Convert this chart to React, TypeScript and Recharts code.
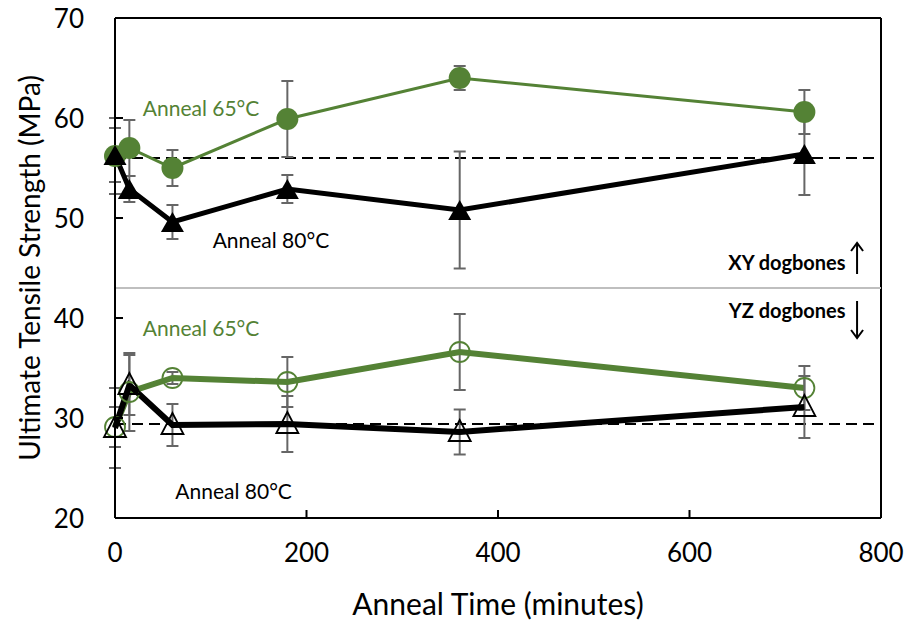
import {
  ComposedChart,
  Line,
  XAxis,
  YAxis,
  ErrorBar,
  ReferenceLine,
  ReferenceDot,
  Label,
} from "recharts";

const times = [0, 15, 60, 180, 360, 720];

// XY dogbones
const xy65 = [56.2, 57.0, 55.0, 59.9, 64.0, 60.6];
const xy65Err = [3.8, 2.8, 1.8, 3.8, 1.2, 2.2];
const xy80 = [56.3, 52.9, 49.6, 52.9, 50.8, 56.4];
const xy80Err = [2.7, 1.3, 1.7, 1.4, 5.85, 4.1];

// YZ dogbones
const yz65 = [29.1, 32.6, 34.0, 33.6, 36.6, 33.0];
const yz65Err = [2.0, 3.9, 0.6, 2.5, 3.8, 2.2];
const yz80 = [29.0, 33.3, 29.3, 29.4, 28.6, 31.1];
const yz80Err = [4.0, 3.0, 2.1, 2.8, 2.25, 3.1];

const xTicks = [0, 200, 400, 600, 800];
const yTicks = [20, 30, 40, 50, 60, 70];

const xyBaseline = 56;
const yzBaseline = 29.4;
const divider = 43;

const GREEN = "#548235";
const ERR = "#666666";
const FONT = "Lato, 'Open Sans', sans-serif";

const toRows = (vals: number[], errs: number[]) =>
  times.map((t, i) => ({ t, v: vals[i], e: errs[i] }));

const filledCircle = (p: any) => (
  <circle key={`fc${p.index}`} cx={p.cx} cy={p.cy} r={11} fill={GREEN} />
);
const openCircle = (p: any) => (
  <circle key={`oc${p.index}`} cx={p.cx} cy={p.cy} r={10} fill="none" stroke={GREEN} strokeWidth={1.8} />
);
const filledTri = (p: any) => (
  <path
    key={`ft${p.index}`}
    d={`M${p.cx},${p.cy - 10} L${p.cx + 11.5},${p.cy + 10} L${p.cx - 11.5},${p.cy + 10} Z`}
    fill="#000"
  />
);
const openTri = (p: any) => (
  <path
    key={`ot${p.index}`}
    d={`M${p.cx},${p.cy - 12} L${p.cx + 11},${p.cy + 9} L${p.cx - 11},${p.cy + 9} Z`}
    fill="none"
    stroke="#000"
    strokeWidth={1.8}
  />
);

const XTick = (p: any) => {
  const v = p.payload.value;
  const inner = v !== 0 && v !== 800;
  return (
    <g>
      {inner && <line x1={p.x} x2={p.x} y1={p.y} y2={p.y - 8} stroke="#000" strokeWidth={2} />}
      <text x={p.x} y={p.y + 34} textAnchor="middle" dominantBaseline="central" fontSize={26} fill="#000" fontFamily={FONT}>
        {v}
      </text>
    </g>
  );
};

const YTick = (p: any) => {
  const v = p.payload.value;
  const inner = v !== 20 && v !== 70;
  return (
    <g>
      {inner && <line x1={p.x} x2={p.x + 8} y1={p.y} y2={p.y} stroke="#000" strokeWidth={2} />}
      <text x={p.x - 31} y={p.y} textAnchor="end" dominantBaseline="central" fontSize={26} fill="#000" fontFamily={FONT}>
        {v}
      </text>
    </g>
  );
};

const note = (text: string, color: string, anchor: string, bold = false) => (p: any) => (
  <text
    x={p.cx}
    y={p.cy}
    textAnchor={anchor}
    dominantBaseline="central"
    fontSize={bold ? 20 : 21}
    fontWeight={bold ? 700 : 400}
    fill={color}
    fontFamily={FONT}
  >
    {text}
  </text>
);

const arrow = (len: number, up: boolean) => (p: any) => {
  const tip = up ? p.cy - len / 2 : p.cy + len / 2;
  const tail = up ? p.cy + len / 2 : p.cy - len / 2;
  const d = up ? 8 : -8;
  return (
    <g stroke="#000" strokeWidth={2} fill="none">
      <line x1={p.cx} x2={p.cx} y1={tail} y2={tip} />
      <polyline points={`${p.cx - 6},${tip + d} ${p.cx},${tip} ${p.cx + 6},${tip + d}`} />
    </g>
  );
};

export default function App() {
  return (
    <div style={{ position: "absolute", left: 0, top: 0, width: 909, height: 625, background: "#fff" }}>
      <ComposedChart width={909} height={625} margin={{ top: 18, right: 28, bottom: 0, left: 0 }}>
        <XAxis
          type="number"
          dataKey="t"
          domain={[0, 800]}
          ticks={xTicks}
          height={107}
          tickLine={false}
          tickSize={0}
          tickMargin={0}
          tick={<XTick />}
          stroke="#000"
          strokeWidth={2}
        >
          <Label
            value="Anneal Time (minutes)"
            position="insideBottom"
            offset={10}
            style={{ fontSize: 30, fill: "#000", fontFamily: FONT }}
          />
        </XAxis>
        <YAxis
          type="number"
          domain={[20, 70]}
          ticks={yTicks}
          width={115}
          tickLine={false}
          tickSize={0}
          tickMargin={0}
          tick={<YTick />}
          stroke="#000"
          strokeWidth={2}
        >
          <Label
            value="Ultimate Tensile Strength (MPa)"
            angle={-90}
            position="insideLeft"
            offset={30}
            style={{ textAnchor: "middle", fontSize: 28, fill: "#000", fontFamily: FONT }}
          />
        </YAxis>

        <ReferenceLine y={70} stroke="#000" strokeWidth={2} />
        <ReferenceLine x={800} stroke="#000" strokeWidth={2} />
        <ReferenceLine y={divider} stroke="#bfbfbf" strokeWidth={2} />
        <ReferenceLine y={xyBaseline} stroke="#000" strokeWidth={2} strokeDasharray="11 6" />
        <ReferenceLine y={yzBaseline} stroke="#000" strokeWidth={2} strokeDasharray="11 6" />

        <Line
          data={toRows(xy65, xy65Err)}
          dataKey="v"
          stroke={GREEN}
          strokeWidth={3}
          dot={filledCircle}
          activeDot={false}
          isAnimationActive={false}
        >
          <ErrorBar dataKey="e" direction="y" width={6} stroke={ERR} strokeWidth={2} />
        </Line>
        <Line
          data={toRows(xy80, xy80Err)}
          dataKey="v"
          stroke="#000"
          strokeWidth={5}
          dot={filledTri}
          activeDot={false}
          isAnimationActive={false}
        >
          <ErrorBar dataKey="e" direction="y" width={6} stroke={ERR} strokeWidth={2} />
        </Line>
        <Line
          data={toRows(yz65, yz65Err)}
          dataKey="v"
          stroke={GREEN}
          strokeWidth={6}
          dot={openCircle}
          activeDot={false}
          isAnimationActive={false}
        >
          <ErrorBar dataKey="e" direction="y" width={6} stroke={ERR} strokeWidth={2} />
        </Line>
        <Line
          data={toRows(yz80, yz80Err)}
          dataKey="v"
          stroke="#000"
          strokeWidth={6}
          dot={openTri}
          activeDot={false}
          isAnimationActive={false}
        >
          <ErrorBar dataKey="e" direction="y" width={6} stroke={ERR} strokeWidth={2} />
        </Line>

        <ReferenceDot x={29} y={61.1} r={0} shape={note("Anneal 65°C", GREEN, "start")} />
        <ReferenceDot x={102} y={47.9} r={0} shape={note("Anneal 80°C", "#000", "start")} />
        <ReferenceDot x={29} y={39.1} r={0} shape={note("Anneal 65°C", GREEN, "start")} />
        <ReferenceDot x={63} y={22.8} r={0} shape={note("Anneal 80°C", "#000", "start")} />
        <ReferenceDot x={763} y={45.6} r={0} shape={note("XY dogbones", "#000", "end", true)} />
        <ReferenceDot x={763} y={40.8} r={0} shape={note("YZ dogbones", "#000", "end", true)} />
        <ReferenceDot x={775} y={45.95} r={0} shape={arrow(31, true)} />
        <ReferenceDot x={775} y={39.85} r={0} shape={arrow(37, false)} />
      </ComposedChart>
    </div>
  );
}
